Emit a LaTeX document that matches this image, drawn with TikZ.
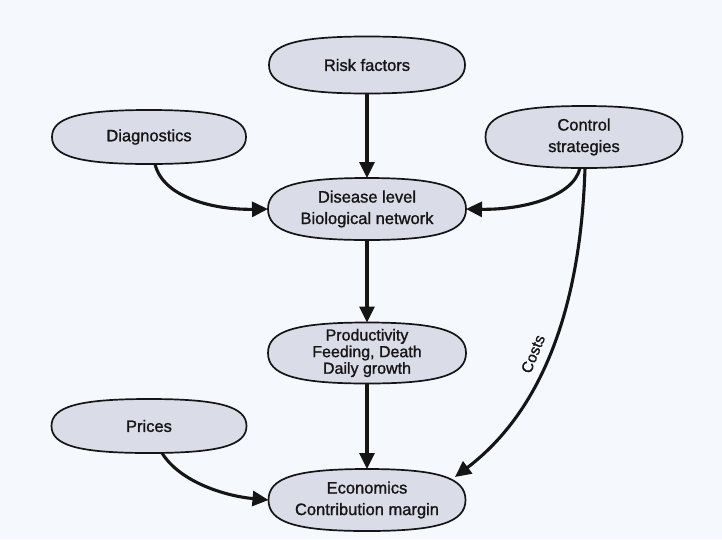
\documentclass[tikz,border=0pt]{standalone}
\usepackage{fontspec}
\setmainfont{Liberation Sans}[UprightFeatures={FakeBold=1.2}]
\usetikzlibrary{arrows.meta,calc,backgrounds}
\definecolor{paper}{HTML}{F5F8FC}
\definecolor{blobfill}{HTML}{DADCE7}
\definecolor{ink}{HTML}{151515}
\tikzset{
  blob/.style={shape=rectangle, draw=none, outer sep=0pt, inner sep=0pt,
    align=center, text=ink, font=\fontsize{16.5}{21.5}\selectfont},
  flow/.style={draw=ink, line width=3.1pt,
    -{Triangle[length=16pt,width=15pt]}},
  outline/.style={draw=ink, line width=1.7pt, fill=blobfill},
}
% rounded "superellipse" outline fitted to a node's bounding box
\newcommand{\blobshape}[2][0.72]{%
  \path[outline] (#2.east)
    .. controls ($(#2.east)!#1!(#2.north east)$) and ($(#2.north)!#1!(#2.north east)$) .. (#2.north)
    .. controls ($(#2.north)!#1!(#2.north west)$) and ($(#2.west)!#1!(#2.north west)$) .. (#2.west)
    .. controls ($(#2.west)!#1!(#2.south west)$) and ($(#2.south)!#1!(#2.south west)$) .. (#2.south)
    .. controls ($(#2.south)!#1!(#2.south east)$) and ($(#2.east)!#1!(#2.south east)$) .. (#2.east) -- cycle;}
\begin{document}
\begin{tikzpicture}[x=1pt,y=-1pt]
  \useasboundingbox (0,0) rectangle (722,539);

  \node[blob, minimum width=196pt, minimum height=57pt] (risk) at (367,65) {Risk factors};
  \node[blob, minimum width=194pt, minimum height=54pt] (diag) at (149,137) {Diagnostics};
  \node[blob, minimum width=197pt, minimum height=62pt] (ctrl) at (584,137) {Control\\strategies};
  \node[blob, minimum width=198pt, minimum height=62pt] (disease) at (367,209) {Disease level\\Biological network};
  \node[blob, minimum width=198pt, minimum height=61pt,
        font=\fontsize{16}{16.6}\selectfont] (prod) at (367,353) {Productivity\\Feeding, Death\\Daily growth};
  \node[blob, minimum width=195pt, minimum height=54pt] (prices) at (149,426) {Prices};
  \node[blob, minimum width=197pt, minimum height=62pt] (econ) at (367,500) {Economics\\Contribution margin};

  \begin{pgfonlayer}{background}
    \fill[paper] (0,0) rectangle (722,539);
    \foreach \n in {risk,diag,ctrl,disease,prod,prices,econ}{\blobshape{\n}}
  \end{pgfonlayer}

  % main chain
  \draw[flow] (risk) -- (disease);
  \draw[flow] (disease) -- (prod);
  \draw[flow] (prod) -- (econ);

  % side influences
  \draw[flow] ([xshift=6pt]diag.south) .. controls (163,198) and (215,210) .. (disease.west);
  \draw[flow] ([xshift=-4pt]ctrl.south) .. controls (573,198) and (520,210) .. (disease.east);
  \draw[flow] ([xshift=13pt]prices.south) .. controls (180,482) and (225,496) .. (econ.west);

  % cost path
  \draw[flow] ([xshift=1pt]ctrl.south) .. controls (580,330) and (530,420) .. ([shift={(88,-23)}]econ.center);
  \node[text=ink, font=\fontsize{15.5}{18}\selectfont, rotate=68] (costs) at (533,354) {Costs};
\end{tikzpicture}
\end{document}
